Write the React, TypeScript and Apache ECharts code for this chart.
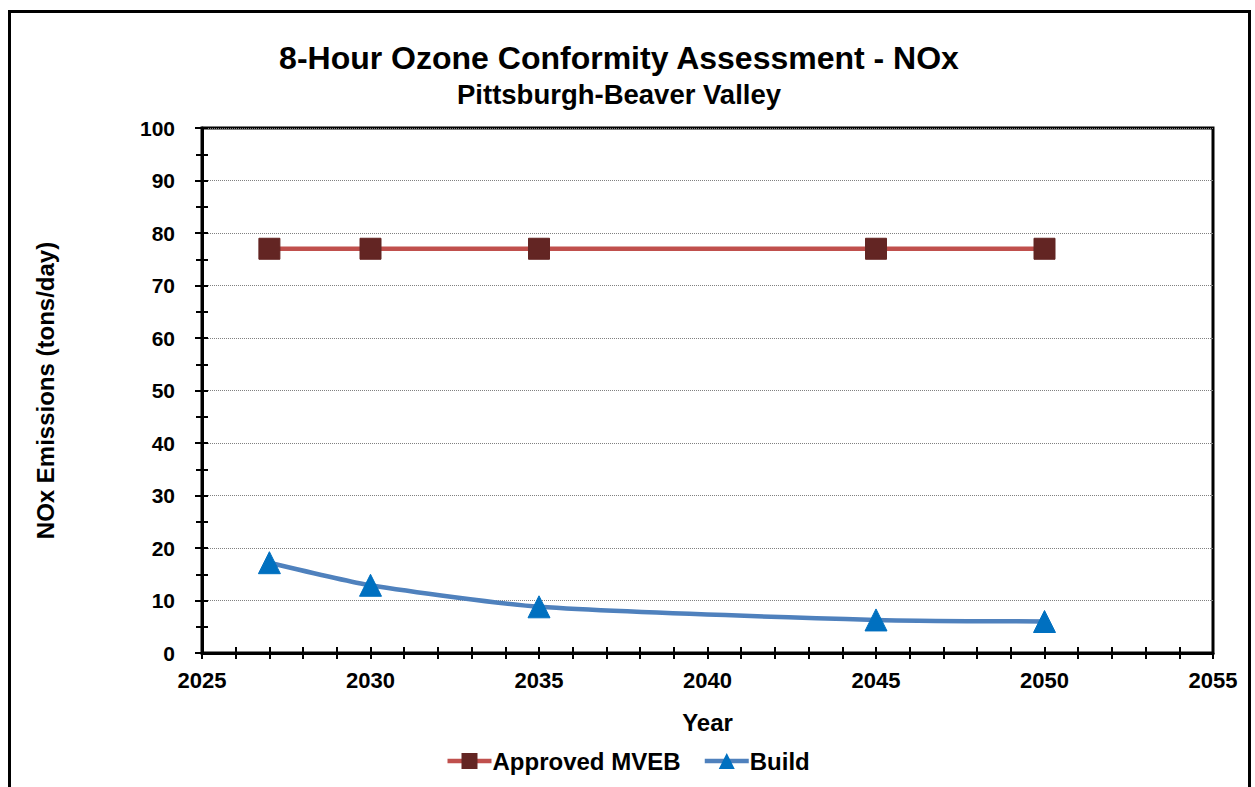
import React, { useEffect, useRef } from "react";
import * as echarts from "echarts";

const years = [2027, 2030, 2035, 2045, 2050];
const mvebValues = [77, 77, 77, 77, 77];
const buildValues = [17.2, 12.9, 8.8, 6.3, 6.0];

const FONT = "'Liberation Sans', Arial, sans-serif";

export default function App() {
  const ref = useRef<HTMLDivElement>(null);
  useEffect(() => {
    const chart = echarts.init(ref.current!, null, { renderer: "svg" });
    const labelStyle = { color: "#000", fontWeight: "bold", fontSize: 22, fontFamily: FONT };
    const nameStyle = { color: "#000", fontWeight: "bold", fontSize: 24, fontFamily: FONT };
    chart.setOption({
      animation: false,
      backgroundColor: "#fff",
      title: [
        {
          text: "8-Hour Ozone Conformity Assessment - NOx",
          left: 614,
          top: 37,
          textAlign: "center",
          textStyle: { fontSize: 32, fontWeight: "bold", color: "#000", fontFamily: FONT },
        },
        {
          text: "Pittsburgh-Beaver Valley",
          left: 614,
          top: 75,
          textAlign: "center",
          textStyle: { fontSize: 27.5, fontWeight: "bold", color: "#000", fontFamily: FONT },
        },
      ],
      graphic: [
        {
          type: "rect",
          shape: { x: 9.5, y: 11.5, width: 1240, height: 820 },
          style: { fill: "none", stroke: "#000", lineWidth: 3 },
          silent: true,
        },
      ],
      grid: { left: 202, top: 128, right: 42, bottom: 134, show: true, borderColor: "#000", borderWidth: 3, backgroundColor: "transparent" },
      legend: {
        left: "center",
        top: 744,
        itemWidth: 44,
        itemHeight: 20,
        itemGap: 22,
        textStyle: { ...nameStyle, padding: [0, 0, 0, -4] },
        data: [
          { name: "Approved MVEB", lineStyle: { width: 4.5, color: "#C0504D" } },
          { name: "Build", lineStyle: { width: 4.5, color: "#4F81BD" } },
        ],
      },
      xAxis: [
        {
          type: "value",
          min: 2025,
          max: 2055,
          interval: 5,
          name: "Year",
          nameLocation: "middle",
          nameGap: 57,
          nameTextStyle: { ...nameStyle },
          axisLine: { lineStyle: { color: "#000", width: 3 } },
          axisTick: { show: true, length: 6, lineStyle: { color: "#000", width: 2 } },
          minorTick: { show: true, splitNumber: 5, length: 6, lineStyle: { color: "#000", width: 2 } },
          axisLabel: { ...labelStyle, margin: 16, formatter: (v: number) => String(v) },
          splitLine: { show: false },
        },
        {
          type: "value",
          min: 2025,
          max: 2055,
          interval: 5,
          position: "bottom",
          axisLine: { show: false },
          axisTick: { show: true, inside: true, length: 6, lineStyle: { color: "#000", width: 2 } },
          minorTick: { show: true, splitNumber: 5, length: 6, lineStyle: { color: "#000", width: 2 } },
          axisLabel: { show: false },
          splitLine: { show: false },
        },
      ],
      yAxis: [
        {
          type: "value",
          min: 0,
          max: 100,
          interval: 10,
          name: "NOx Emissions (tons/day)",
          nameLocation: "middle",
          nameGap: 145,
          nameRotate: 90,
          nameTextStyle: { ...nameStyle },
          axisLine: { show: true, lineStyle: { color: "#000", width: 3 } },
          axisTick: { show: true, length: 7, lineStyle: { color: "#000", width: 2 } },
          minorTick: { show: true, splitNumber: 2, length: 6, lineStyle: { color: "#000", width: 2 } },
          axisLabel: { ...labelStyle, fontSize: 21, margin: 27 },
          splitLine: { show: true, lineStyle: { color: "#808080", width: 1, type: "dotted" } },
        },
        {
          type: "value",
          min: 0,
          max: 100,
          interval: 10,
          position: "left",
          axisLine: { show: false },
          axisTick: { show: true, inside: true, length: 6, lineStyle: { color: "#000", width: 2 } },
          minorTick: { show: true, splitNumber: 2, length: 6, lineStyle: { color: "#000", width: 2 } },
          axisLabel: { show: false },
          splitLine: { show: false },
        },
      ],
      series: [
        {
          name: "Approved MVEB",
          type: "line",
          data: years.map((y, i) => [y, mvebValues[i]]),
          symbol: "rect",
          symbolSize: 21,
          itemStyle: { color: "#632523", borderColor: "#632523" },
          lineStyle: { color: "#C0504D", width: 4.5 },
          z: 3,
        },
        {
          name: "Build",
          type: "line",
          data: years.map((y, i) => [y, buildValues[i]]),
          smooth: 0.2,
          symbol: "triangle",
          symbolSize: 22,
          itemStyle: { color: "#0070C0", borderColor: "#0070C0" },
          lineStyle: { color: "#4F81BD", width: 4.5 },
          z: 3,
        },
      ],
    });
    return () => chart.dispose();
  }, []);
  return (
    <div
      ref={ref}
      style={{ position: "fixed", left: 0, top: 0, width: 1255, height: 787 }}
    />
  );
}
